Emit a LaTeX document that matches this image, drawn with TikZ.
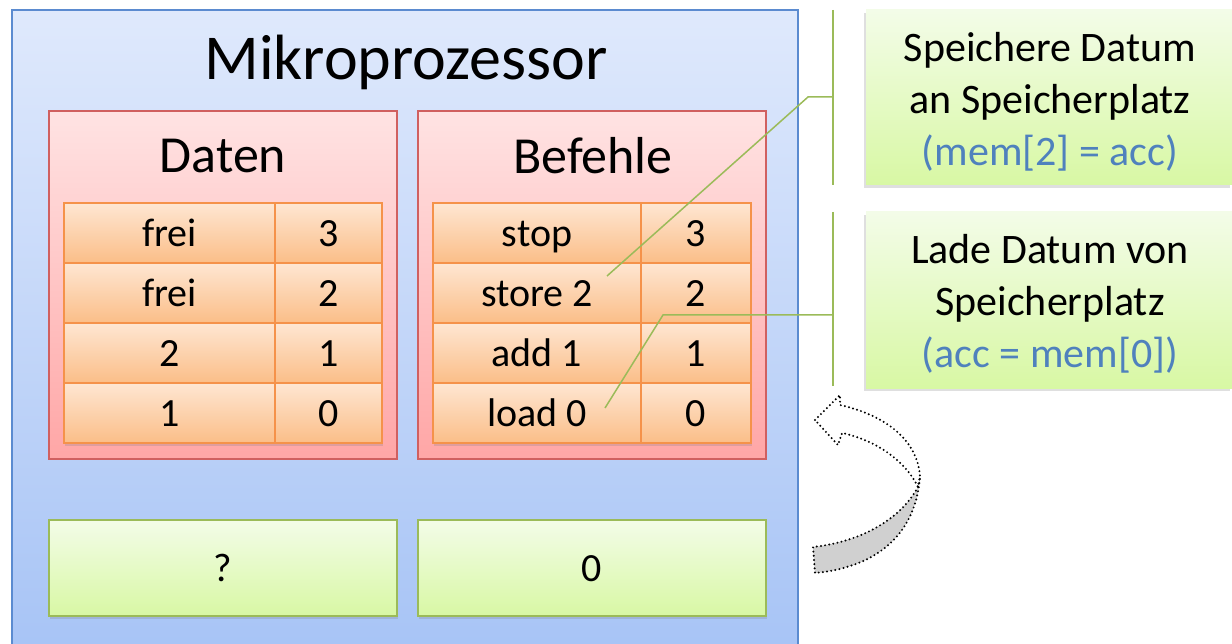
\documentclass[tikz,border=0pt]{standalone}
\usepackage{fontspec}
\setmainfont{Carlito}
\usetikzlibrary{shadows}
\definecolor{blueT}{HTML}{DFE9FC}
\definecolor{blueB}{HTML}{A3C1F5}
\definecolor{blueD}{HTML}{5B8BD0}
\definecolor{redT}{HTML}{FFE3E3}
\definecolor{redB}{HTML}{FFA6A6}
\definecolor{redD}{HTML}{D06060}
\definecolor{orT}{HTML}{FEE6D2}
\definecolor{orB}{HTML}{FBBE88}
\definecolor{orD}{HTML}{F5924A}
\definecolor{grT}{HTML}{F3FCE8}
\definecolor{grB}{HTML}{D8F8A4}
\definecolor{grD}{HTML}{9BBB59}
\definecolor{txtblue}{HTML}{4F81BD}
\definecolor{arrgray}{HTML}{D0D0D0}
\begin{document}
\begin{tikzpicture}[x=1pt,y=-1pt,
  outerbox/.style={draw=blueD, line width=1.2pt, top color=blueT, bottom color=blueB},
  groupbox/.style={draw=redD, line width=1.2pt, top color=redT, bottom color=redB, inner sep=0pt},
  cellbox/.style={draw=orD, line width=1.2pt, top color=orT, bottom color=orB, minimum height=60pt, inner sep=0pt,
    text height=28pt, text depth=1pt,
    font=\fontsize{40}{48}\selectfont, drop shadow={shadow xshift=1pt, shadow yshift=-3pt, opacity=0.25}},
  regbox/.style={draw=grD, line width=1.2pt, top color=grT, bottom color=grB, minimum width=348pt, minimum height=96pt, inner sep=0pt,
    text height=28pt, text depth=1pt,
    font=\fontsize{40}{48}\selectfont, drop shadow={shadow xshift=1pt, shadow yshift=-3pt, opacity=0.25}},
  callout/.style={top color=grT, bottom color=grB, minimum width=366pt, inner sep=0pt,
    drop shadow={shadow xshift=-2pt, shadow yshift=-3pt, opacity=0.25}},
  callouttext/.style={align=center, inner sep=0pt, font=\fontsize{42}{52}\selectfont},
  bracket/.style={draw=grD, line width=1.5pt},
  dotline/.style={line width=2.2pt, line cap=round, dash pattern=on 0pt off 4.2pt},
]
\useasboundingbox (0,0) rectangle (1232,644);
% outer processor
\path[outerbox] (12,10) rectangle (798,700);
\node[font=\fontsize{64}{72}\selectfont] (title) at (406,62) {Mikroprozessor};
% group boxes
\node[groupbox, minimum width=348pt, minimum height=348pt] (daten) at (223,285) {};
\node[groupbox, minimum width=348pt, minimum height=348pt] (befehle) at (592,285) {};
\node[font=\fontsize{52}{60}\selectfont] (datenL) at (223,156) {Daten};
\node[font=\fontsize{52}{60}\selectfont] (befehleL) at (593,156) {Befehle};
% data cells
\foreach \v/\a/\y in {frei/3/233, frei/2/293, 2/1/353, 1/0/413}{
  \node[cellbox, minimum width=211pt] (dv\a) at (169.5,\y) {\v};
  \node[cellbox, minimum width=107pt] (da\a) at (328.5,\y) {\a};
}
\foreach \v/\a/\y in {stop/3/233, store 2/2/293, add 1/1/353, load 0/0/413}{
  \node[cellbox, minimum width=208pt] (bv\a) at (537,\y) {\v};
  \node[cellbox, minimum width=110pt] (ba\a) at (696,\y) {\a};
}
% registers
\node[regbox] (acc) at (223,568) {?};
\node[regbox] (pc) at (592,568) {0};
% callouts
\node[callout, minimum height=175pt] (c1) at (1049,97.5) {};
\node[callouttext] (c1t) at (1050,102) {Speichere Datum\\an Speicherplatz\\\textcolor{txtblue}{(mem[2] = acc)}};
\node[callout, minimum height=176pt] (c2) at (1049,300) {};
\node[callouttext] (c2t) at (1050,304) {Lade Datum von\\Speicherplatz\\\textcolor{txtblue}{(acc = mem[0])}};
\coordinate (b1t) at (833,10);
\coordinate (b1b) at (833,185);
\coordinate (b1m) at (833,97);
\coordinate (b1k) at (808,97);
\coordinate (p1) at (607,276);
\coordinate (b2t) at (833,212);
\coordinate (b2b) at (833,386);
\coordinate (b2m) at (833,315);
\coordinate (b2k) at (663,315);
\coordinate (p2) at (605,408);
\draw[bracket] (b1t) -- (b1b);
\draw[bracket] (b1m) -- (b1k) -- (p1);
\draw[bracket] (b2t) -- (b2b);
\draw[bracket] (b2m) -- (b2k) -- (p2);
% curved arrow
\path[dotline, draw=black, fill=white]
  (815,420) -- (840,395) -- (840,405)
  .. controls (885,415) and (918,440) .. (920,477)
  -- (918,487)
  .. controls (905,460) and (875,440) .. (842,433)
  -- (838,445) -- cycle;
\path[dotline, draw=black, fill=arrgray]
  (918,487) .. controls (900,520) and (860,542) .. (813,547)
  -- (815,573)
  .. controls (870,568) and (915,540) .. (920,477) -- cycle;
\end{tikzpicture}
\end{document}
